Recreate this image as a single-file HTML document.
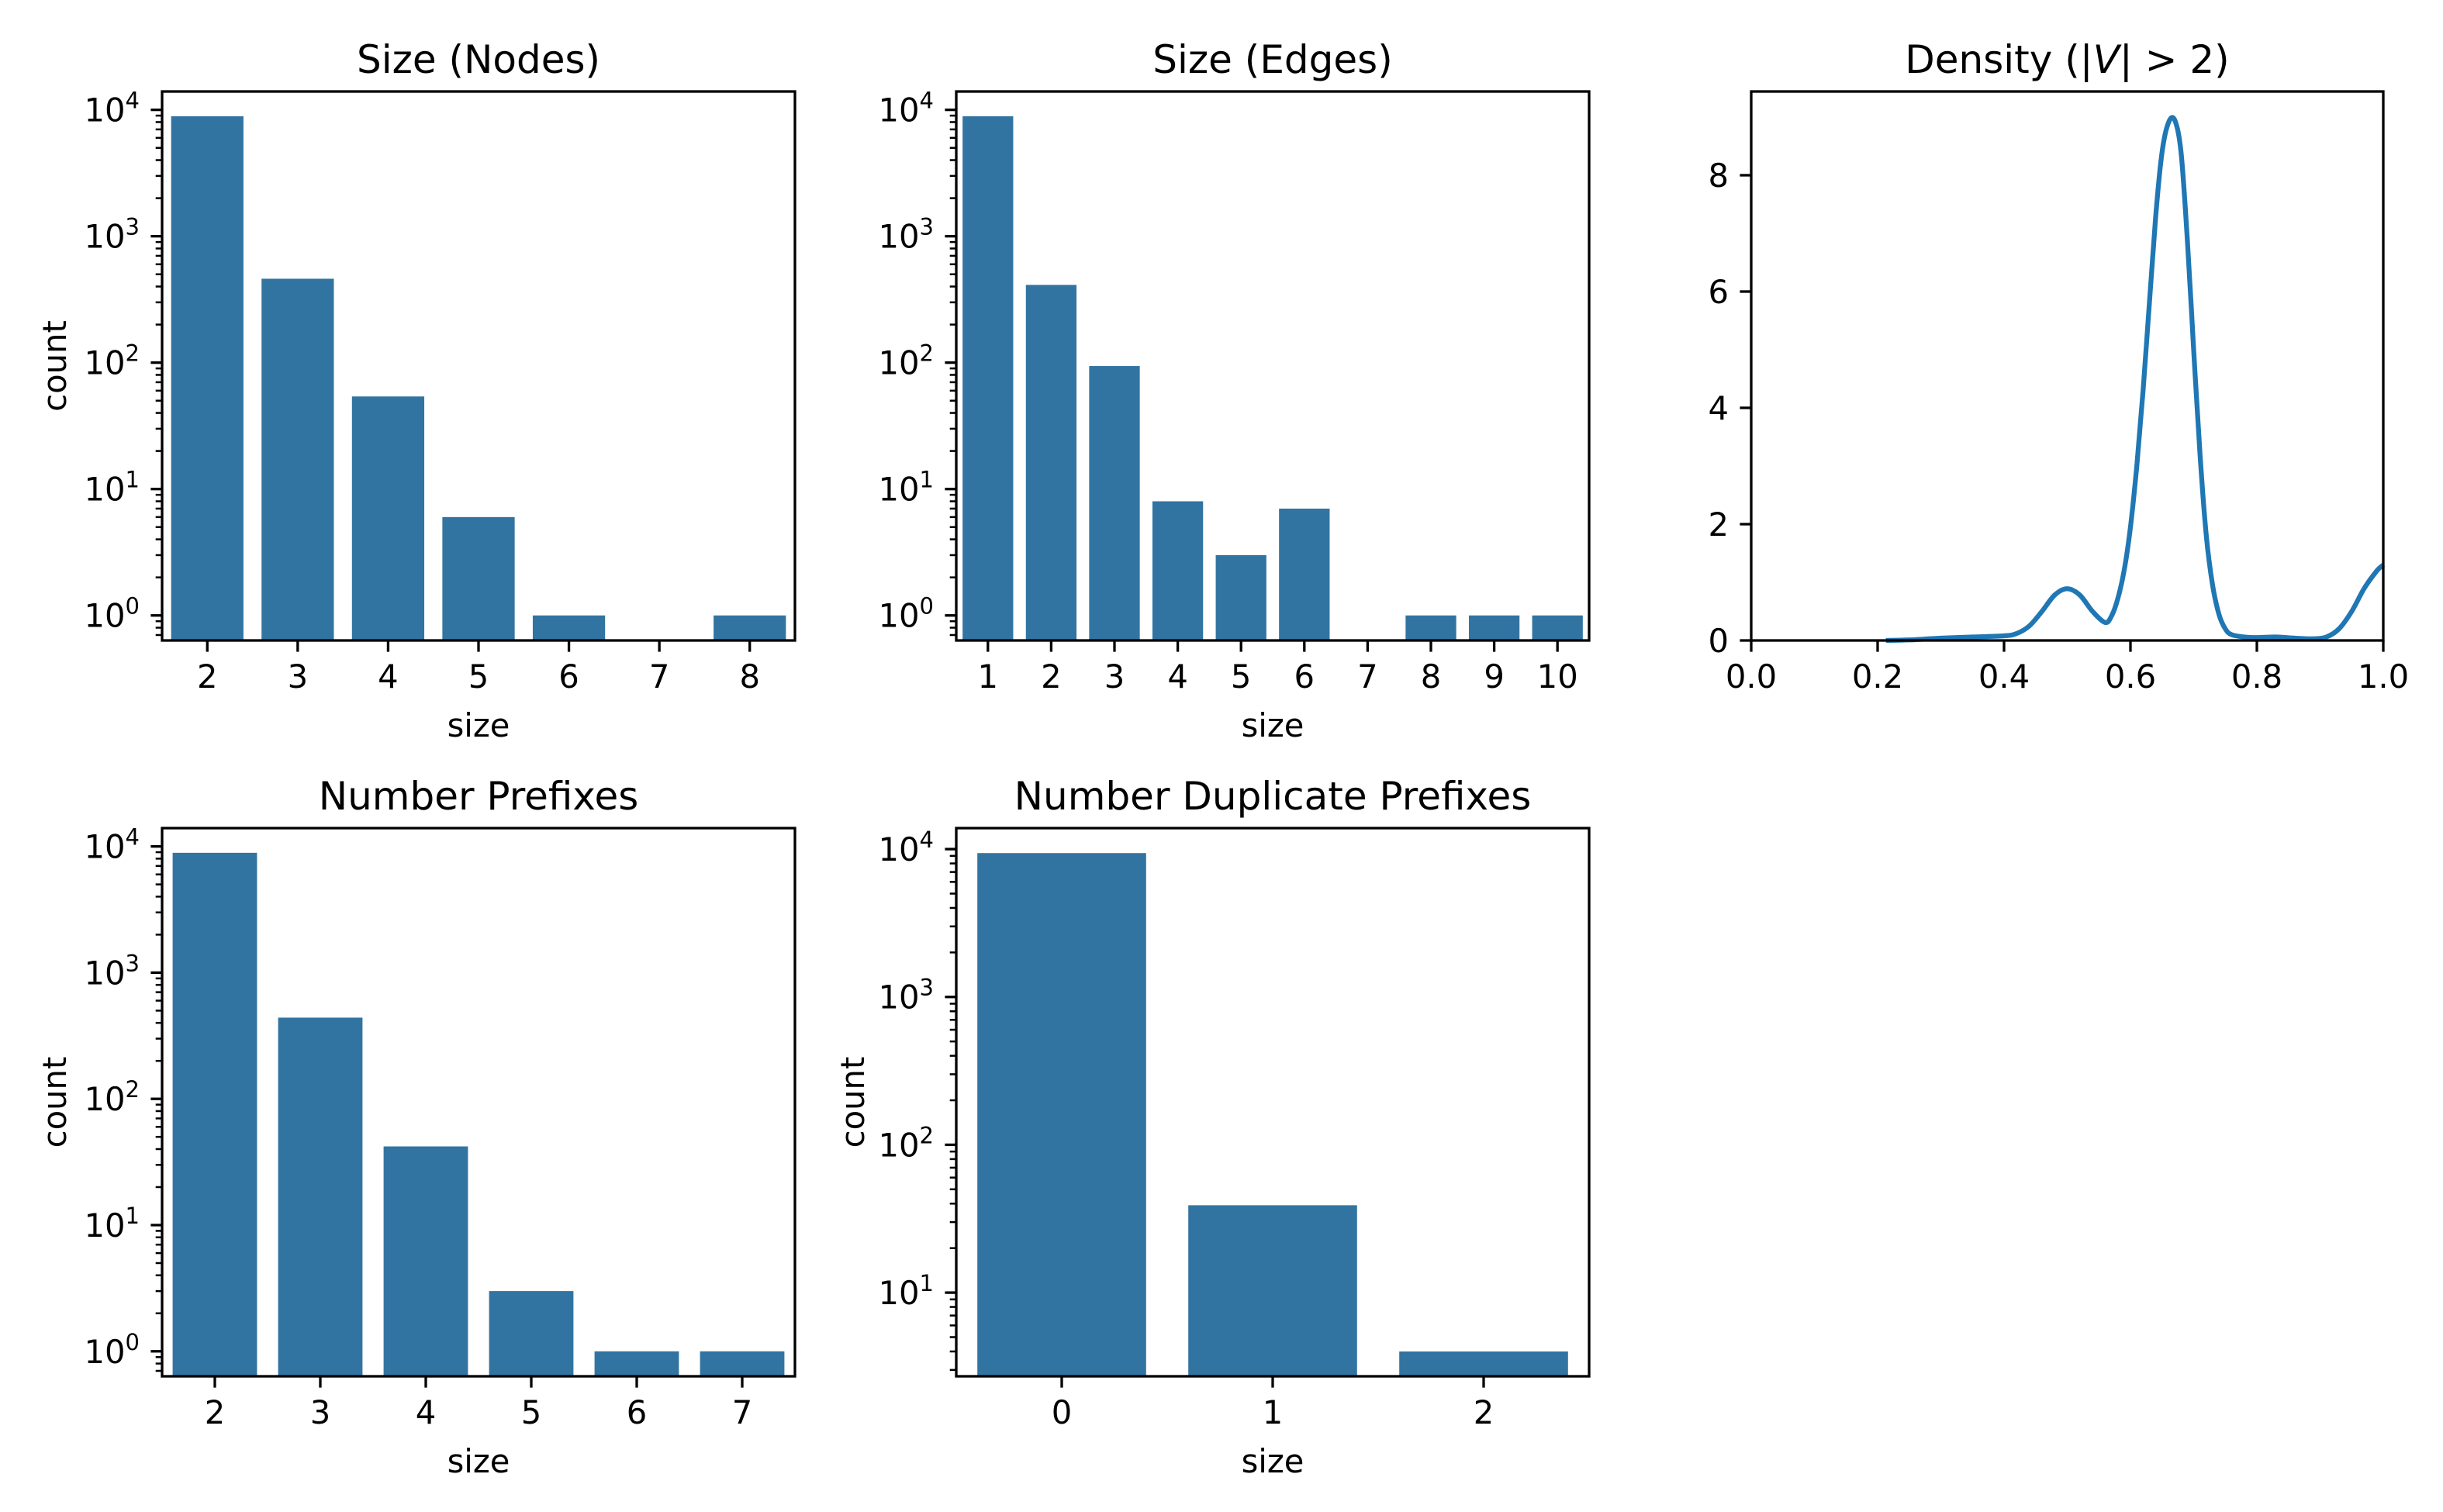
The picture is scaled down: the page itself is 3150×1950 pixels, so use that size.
<!DOCTYPE html>
<html><head><meta charset="utf-8">
<style>
html,body{margin:0;padding:0;background:#fff;}
svg{display:block;}
text{font-family:"DejaVu Sans","Liberation Sans",sans-serif;fill:#000;}
</style></head>
<body>
<svg id="fig" width="3150" height="1950" viewBox="0 0 3150 1950" xmlns="http://www.w3.org/2000/svg">
<rect width="3150" height="1950" fill="#fff"/>
</svg>
<script>
// ---- data ----
const nodesCats = ["2","3","4","5","6","7","8"];
const nodesCounts = [8900, 461, 54, 6, 1, 0, 1];
const edgesCats = ["1","2","3","4","5","6","7","8","9","10"];
const edgesCounts = [8900, 412, 94, 8, 3, 7, 0, 1, 1, 1];
const prefixCats = ["2","3","4","5","6","7"];
const prefixCounts = [8900, 440, 42, 3, 1, 1];
const dupCats = ["0","1","2"];
const dupCounts = [9400, 39, 4];
const densityX = [0.213,0.25,0.3,0.35,0.4,0.42,0.44,0.46,0.48,0.5,0.52,0.54,0.56,0.57,0.58,0.59,0.6,0.61,0.62,0.63,0.64,0.65,0.66,0.67,0.68,0.69,0.7,0.71,0.72,0.73,0.74,0.75,0.76,0.78,0.8,0.83,0.86,0.89,0.91,0.93,0.95,0.97,0.99,1.0];
const densityY = [0.0,0.01,0.04,0.06,0.08,0.12,0.25,0.5,0.78,0.89,0.78,0.5,0.31,0.42,0.72,1.2,1.95,3.0,4.3,5.8,7.3,8.4,8.9,8.95,8.4,6.9,5.0,3.2,1.8,0.95,0.45,0.2,0.1,0.06,0.05,0.06,0.04,0.03,0.06,0.2,0.5,0.9,1.2,1.3];
const densityXTicks = ["0.0","0.2","0.4","0.6","0.8","1.0"];
const densityYTicks = [0,2,4,6,8];

const NS = "http://www.w3.org/2000/svg";
const svg = document.getElementById("fig");
function el(tag, attrs, parent){
  const e = document.createElementNS(NS, tag);
  for (const k in attrs) e.setAttribute(k, attrs[k]);
  (parent||svg).appendChild(e);
  return e;
}
const BAR = "#3274a1", LINE = "#1f77b4";
const FS = 41.7, TFS = 50;

function frame(g, L, T, R, B){
  const r = el("rect", {x:L, y:T, width:R-L, height:B-T, fill:"none", stroke:"#000", "stroke-width":3.3}, g);
  
  
}
function title(g, txt, cx, y){
  const t = el("text", {x:cx, y:y, "font-size":TFS, "text-anchor":"middle"}, g);
  t.textContent = txt;
  
  
  return t;
}

function barChart(name, L, T, R, B, cats, vals, lmin, lmax, ttl, showY, ylabX){
  const g = el("g", {});
  
  
  const n = cats.length, slot = (R-L)/n;
  const xc = i => L + slot*(i+0.5);
  const y = v => B - (Math.log10(v)-lmin)/(lmax-lmin)*(B-T);
  vals.forEach((v,i)=>{
    if (v <= 0) return;
    const top = Math.max(T, y(v));
    const r = el("rect", {x:xc(i)-slot*0.4, y:top, width:slot*0.8, height:B-top, fill:BAR}, g);
    
    
  });
  cats.forEach((c,i)=>{
    el("line", {x1:xc(i), x2:xc(i), y1:B, y2:B+14.6, stroke:"#000", "stroke-width":3.3}, g);
    const t = el("text", {x:xc(i), y:B+61, "font-size":FS, "text-anchor":"middle"}, g);
    t.textContent = c;
    
    
  });
  for (let d = Math.floor(lmin); d <= Math.ceil(lmax); d++){
    for (let m = 1; m <= 9; m++){
      const lv = d + Math.log10(m);
      if (lv < lmin || lv > lmax) continue;
      const yy = B - (lv-lmin)/(lmax-lmin)*(B-T);
      if (m === 1){
        el("line", {x1:L-14.6, x2:L, y1:yy, y2:yy, stroke:"#000", "stroke-width":3.3}, g);
        const t = el("text", {x:L-29, y:yy+15, "font-size":FS, "text-anchor":"end"}, g);
        
        
        const a = el("tspan", {}, t); a.textContent = "10";
        const s = el("tspan", {"font-size":29, dy:-17}, t); s.textContent = String(d);
      } else {
        el("line", {x1:L-8.3, x2:L, y1:yy, y2:yy, stroke:"#000", "stroke-width":2.5}, g);
      }
    }
  }
  frame(g, L, T, R, B);
  title(g, ttl, (L+R)/2, T-24);
  const xl = el("text", {x:(L+R)/2, y:B+124, "font-size":FS, "text-anchor":"middle"}, g);
  xl.textContent = "size";
  
  
  if (showY){
    const cy = (T+B)/2;
    const yl = el("text", {x:ylabX, y:cy, "font-size":FS, "text-anchor":"middle", transform:`rotate(-90 ${ylabX} ${cy})`}, g);
    yl.textContent = "count";
    
    
  }
}

const C1 = [209, 1025], C2 = [1233, 2049], C3 = [2258, 3073];
const R1 = [118, 826], R2 = [1068, 1775];

barChart("size-nodes-chart", C1[0], R1[0], C1[1], R1[1], nodesCats, nodesCounts, -0.198, 4.145, "Size (Nodes)", true, 85);
barChart("size-edges-chart", C2[0], R1[0], C2[1], R1[1], edgesCats, edgesCounts, -0.198, 4.145, "Size (Edges)", false, 0);
barChart("number-prefixes-chart", C1[0], R2[0], C1[1], R2[1], prefixCats, prefixCounts, -0.198, 4.145, "Number Prefixes", true, 85);
barChart("duplicate-prefixes-chart", C2[0], R2[0], C2[1], R2[1], dupCats, dupCounts, 0.434, 4.142, "Number Duplicate Prefixes", true, 1114);

(function(){
  const L = C3[0], R = C3[1], T = R1[0], B = R1[1];
  const g = el("g", {});
  
  
  const ymax = 9.44;
  const x = v => L + v*(R-L);
  const y = v => B - v/ymax*(B-T);
  const P = densityX.map((v,i)=>[x(v), y(densityY[i])]);
  let d = "M" + P[0][0].toFixed(1) + " " + P[0][1].toFixed(1);
  for (let i = 0; i < P.length-1; i++){
    const p0 = P[Math.max(0,i-1)], p1 = P[i], p2 = P[i+1], p3 = P[Math.min(P.length-1,i+2)];
    const c1x = p1[0] + (p2[0]-p0[0])/6, c1y = p1[1] + (p2[1]-p0[1])/6;
    const c2x = p2[0] - (p3[0]-p1[0])/6, c2y = p2[1] - (p3[1]-p1[1])/6;
    d += ` C${c1x.toFixed(1)} ${Math.min(B,c1y).toFixed(1)} ${c2x.toFixed(1)} ${Math.min(B,c2y).toFixed(1)} ${p2[0].toFixed(1)} ${p2[1].toFixed(1)}`;
  }
  const p = el("path", {d:d, fill:"none", stroke:LINE, "stroke-width":6.25, "stroke-linejoin":"round", "stroke-linecap":"butt"}, g);
  
  
  densityXTicks.forEach(lbl=>{
    const xx = x(parseFloat(lbl));
    el("line", {x1:xx, x2:xx, y1:B, y2:B+14.6, stroke:"#000", "stroke-width":3.3}, g);
    const t = el("text", {x:xx, y:B+61, "font-size":FS, "text-anchor":"middle"}, g);
    t.textContent = lbl;
    
    
  });
  densityYTicks.forEach(v=>{
    const yy = y(v);
    el("line", {x1:L-14.6, x2:L, y1:yy, y2:yy, stroke:"#000", "stroke-width":3.3}, g);
    const t = el("text", {x:L-29, y:yy+15, "font-size":FS, "text-anchor":"end"}, g);
    t.textContent = String(v);
    
    
  });
  frame(g, L, T, R, B);
  const t = el("text", {x:(L+R)/2, y:T-24, "font-size":TFS, "text-anchor":"middle"}, g);
  
  
  const a = el("tspan", {}, t); a.textContent = "Density (|";
  const b = el("tspan", {"font-style":"italic"}, t); b.textContent = "V";
  const c = el("tspan", {}, t); c.textContent = "| > 2)";
})();
</script>
</body></html>
